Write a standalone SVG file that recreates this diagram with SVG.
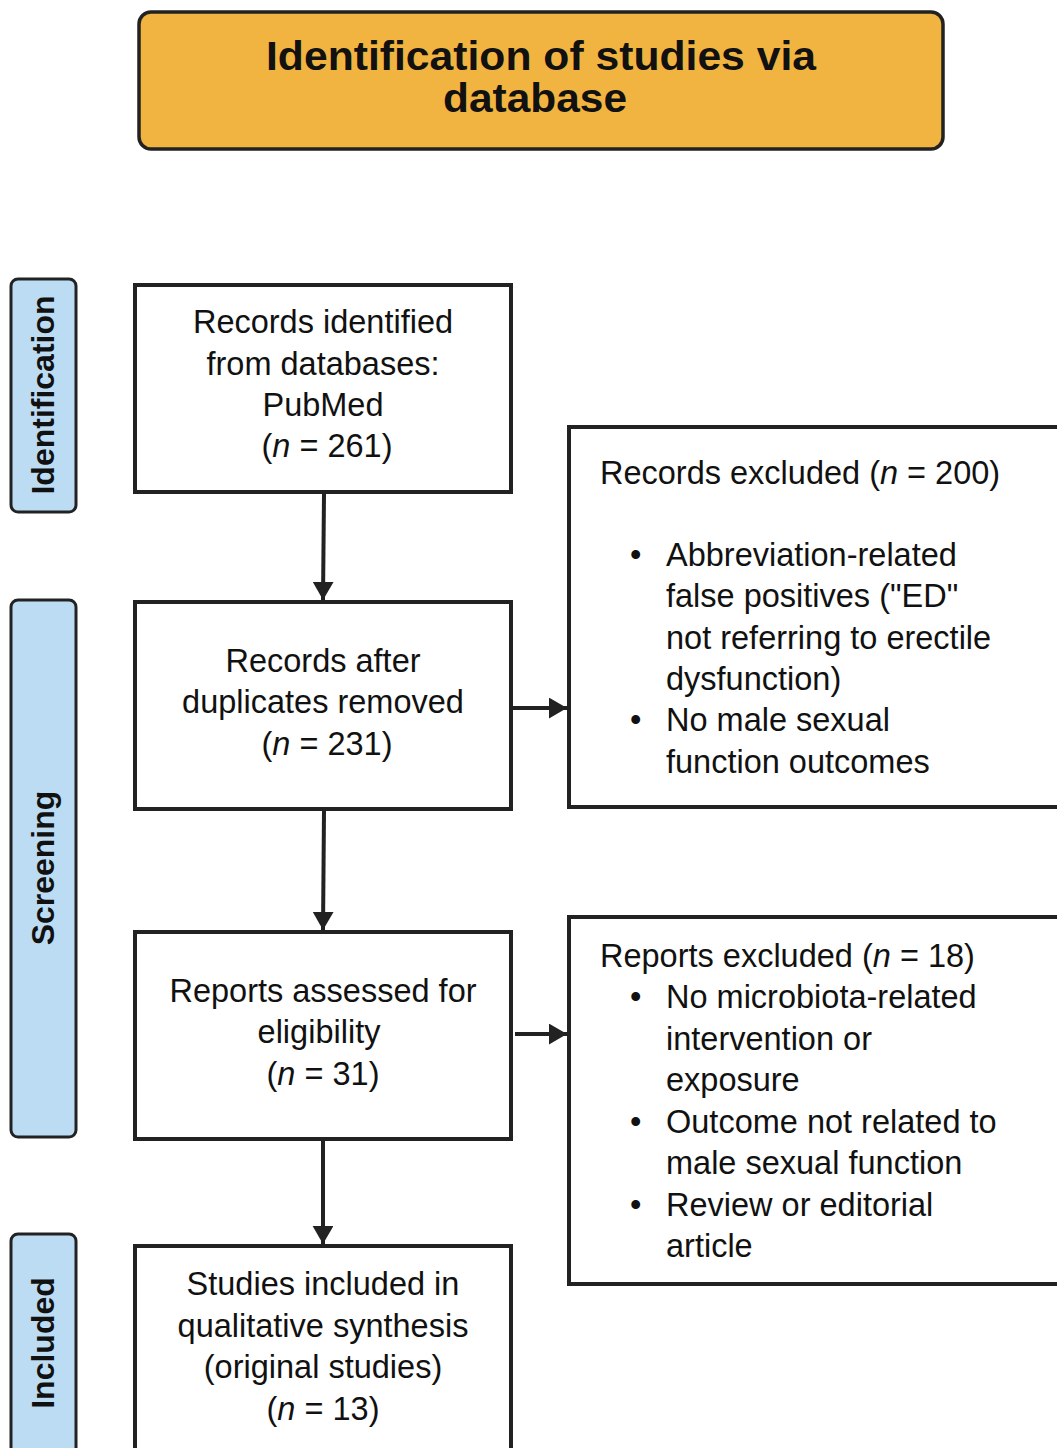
<svg xmlns="http://www.w3.org/2000/svg" width="1057" height="1448" viewBox="0 0 1057 1448">
<style>
.box{fill:#fff;stroke:#222;stroke-width:4}
.side{fill:#BCDCF4;stroke:#222;stroke-width:3}
.t{font-family:"Liberation Sans",Arial,sans-serif;font-size:32.5px;fill:#111}
.c{text-anchor:middle}
.sl{font-family:"Liberation Sans",Arial,sans-serif;font-size:32px;font-weight:bold;fill:#111;text-anchor:middle}
.hd{font-family:"Liberation Sans",Arial,sans-serif;font-size:40px;font-weight:bold;fill:#111;text-anchor:middle}
.edge{stroke:#222;stroke-width:4;fill:none;marker-end:url(#ah)}
</style>
<defs>
<marker id="ah" markerWidth="6" markerHeight="6" refX="4.5" refY="2.6" orient="auto" markerUnits="strokeWidth">
<path d="M0,0 L4.5,2.6 L0,5.2 z" fill="#222"/>
</marker>
</defs>
<rect width="1057" height="1448" fill="#fff"/>
<g id="title">
<rect x="139" y="12" width="804" height="137" rx="12" fill="#F2B441" stroke="#222" stroke-width="3.5"/>
<text class="hd" x="541" y="70" textLength="550" lengthAdjust="spacingAndGlyphs">Identification of studies via</text>
<text class="hd" x="535" y="112" textLength="184" lengthAdjust="spacingAndGlyphs">database</text>
</g>
<g id="side-identification">
<rect class="side" x="11" y="279" width="65" height="233" rx="7"/>
<text class="sl" transform="translate(54,395) rotate(-90)">Identification</text>
</g>
<g id="side-screening">
<rect class="side" x="11" y="600" width="65" height="537" rx="7"/>
<text class="sl" transform="translate(54,868) rotate(-90)">Screening</text>
</g>
<g id="side-included">
<rect class="side" x="11" y="1234" width="65" height="230" rx="7"/>
<text class="sl" transform="translate(54,1343) rotate(-90)">Included</text>
</g>
<g id="n1">
<rect class="box" x="135" y="285" width="376" height="207"/>
<text class="t c" x="323" y="333">Records identified</text>
<text class="t c" x="323" y="375">from databases:</text>
<text class="t c" x="323" y="416">PubMed</text>
<text class="t c" x="327" y="457">(<tspan font-style="italic">n</tspan> = 261)</text>
</g>
<g id="n2">
<rect class="box" x="135" y="602" width="376" height="207"/>
<text class="t c" x="323" y="672">Records after</text>
<text class="t c" x="323" y="713">duplicates removed</text>
<text class="t c" x="327" y="755">(<tspan font-style="italic">n</tspan> = 231)</text>
</g>
<g id="n3">
<rect class="box" x="135" y="932" width="376" height="207"/>
<text class="t c" x="323" y="1002">Reports assessed for</text>
<text class="t c" x="319" y="1043">eligibility</text>
<text class="t c" x="323" y="1085">(<tspan font-style="italic">n</tspan> = 31)</text>
</g>
<g id="n4">
<rect class="box" x="135" y="1246" width="376" height="230"/>
<text class="t c" x="323" y="1295">Studies included in</text>
<text class="t c" x="323" y="1337">qualitative synthesis</text>
<text class="t c" x="323" y="1378">(original studies)</text>
<text class="t c" x="323" y="1420">(<tspan font-style="italic">n</tspan> = 13)</text>
</g>
<g id="r1">
<rect class="box" x="569" y="427" width="500" height="380"/>
<text class="t" x="600" y="484">Records excluded (<tspan font-style="italic">n</tspan> = 200)</text>
<text class="t" x="630" y="566">•</text>
<text class="t" x="666" y="566">Abbreviation-related</text>
<text class="t" x="666" y="607">false positives ("ED"</text>
<text class="t" x="666" y="649">not referring to erectile</text>
<text class="t" x="666" y="690">dysfunction)</text>
<text class="t" x="630" y="731">•</text>
<text class="t" x="666" y="731">No male sexual</text>
<text class="t" x="666" y="773">function outcomes</text>
</g>
<g id="r2">
<rect class="box" x="569" y="917" width="500" height="367"/>
<text class="t" x="600" y="967">Reports excluded (<tspan font-style="italic">n</tspan> = 18)</text>
<text class="t" x="630" y="1008">•</text>
<text class="t" x="666" y="1008">No microbiota-related</text>
<text class="t" x="666" y="1050">intervention or</text>
<text class="t" x="666" y="1091">exposure</text>
<text class="t" x="630" y="1133">•</text>
<text class="t" x="666" y="1133">Outcome not related to</text>
<text class="t" x="666" y="1174">male sexual function</text>
<text class="t" x="630" y="1216">•</text>
<text class="t" x="666" y="1216">Review or editorial</text>
<text class="t" x="666" y="1257">article</text>
</g>
<g id="connectors">
<line class="edge" x1="324" y1="494" x2="323" y2="600"/>
<line class="edge" x1="324" y1="811" x2="323" y2="930"/>
<line class="edge" x1="323" y1="1141" x2="323" y2="1244"/>
<line class="edge" x1="512" y1="708" x2="567" y2="708"/>
<line class="edge" x1="515" y1="1034" x2="567" y2="1034"/>
</g>
</svg>
